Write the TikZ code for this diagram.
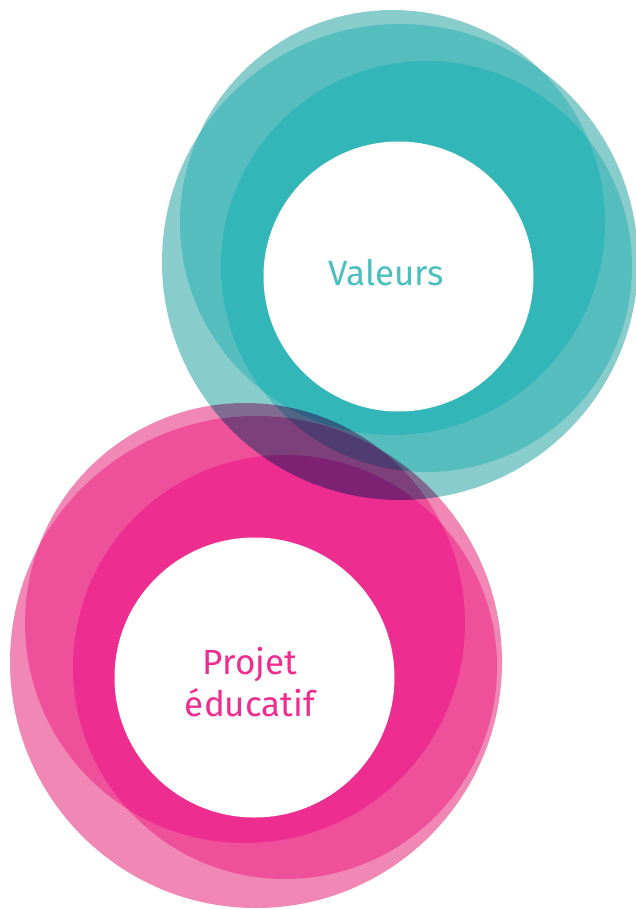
\documentclass[tikz,border=0pt]{standalone}
\usepackage{fontspec}
\setmainfont{Fira Sans}
% teal shades, painted as they are
\definecolor{vallight}{RGB}{136,204,204}
\definecolor{valmid}{RGB}{85,189,189}
\definecolor{valdark}{RGB}{51,182,184}
\definecolor{valtext}{RGB}{75,190,192}
% pink shades, painted as multiply factors
\definecolor{projlight}{RGB}{240,135,180}
\definecolor{projmidf}{RGB}{253,153,217}
\definecolor{projdarkf}{RGB}{255,142,242}
\definecolor{projtext}{RGB}{238,45,145}
\begin{document}
\begin{tikzpicture}[x=1pt, y=-1pt]
\tikzset{pmult/.style={blend mode=multiply}}
\tikzset{hole/.style={shape=circle, fill=white, inner sep=0pt}}
\tikzset{ringlabel/.style={align=center, inner sep=0pt, font=\fontsize{35}{42}\selectfont}}
\useasboundingbox (0,0) rectangle (636,909);
% values rings: one, two, three layers
\fill[vallight] (400,262) circle [radius=238pt] (392.5,222.5) circle [radius=212.5pt] (426.5,266.5) circle [radius=205.5pt];
\begin{scope}
  \clip (400,262) circle [radius=238pt];
  \fill[valmid] (392.5,222.5) circle [radius=212.5pt] (426.5,266.5) circle [radius=205.5pt];
\end{scope}
\begin{scope}
  \clip (392.5,222.5) circle [radius=212.5pt];
  \fill[valmid] (426.5,266.5) circle [radius=205.5pt];
\end{scope}
\begin{scope}
  \clip (400,262) circle [radius=238pt];
  \clip (392.5,222.5) circle [radius=212.5pt];
  \fill[valdark] (426.5,266.5) circle [radius=205.5pt];
\end{scope}
\node (Vhole) [hole, minimum size=270pt] at (398.5,276.5) {};
\node (Vlab) [ringlabel, text=valtext, anchor=base] at (386.5,285) {Valeurs};
% project rings: one, two, three layers
\fill[projlight, pmult] (256,662) circle [radius=246pt] (245,623) circle [radius=220pt] (285,667) circle [radius=212pt];
\begin{scope}
  \clip (256,662) circle [radius=246pt];
  \fill[projmidf, pmult] (245,623) circle [radius=220pt] (285,667) circle [radius=212pt];
\end{scope}
\begin{scope}
  \clip (245,623) circle [radius=220pt];
  \clip (285,667) circle [radius=212pt];
  \fill[projmidf, pmult, even odd rule] (0,0) rectangle (636,909) (256,662) circle [radius=246pt];
\end{scope}
\begin{scope}
  \clip (256,662) circle [radius=246pt];
  \clip (245,623) circle [radius=220pt];
  \fill[projdarkf, pmult] (285,667) circle [radius=212pt];
\end{scope}
\node (Phole) [hole, minimum size=280pt] at (254.5,677.5) {};
\node (Plab) [ringlabel, text=projtext] at (250,682) {Projet\\éducatif};
\end{tikzpicture}
\end{document}
